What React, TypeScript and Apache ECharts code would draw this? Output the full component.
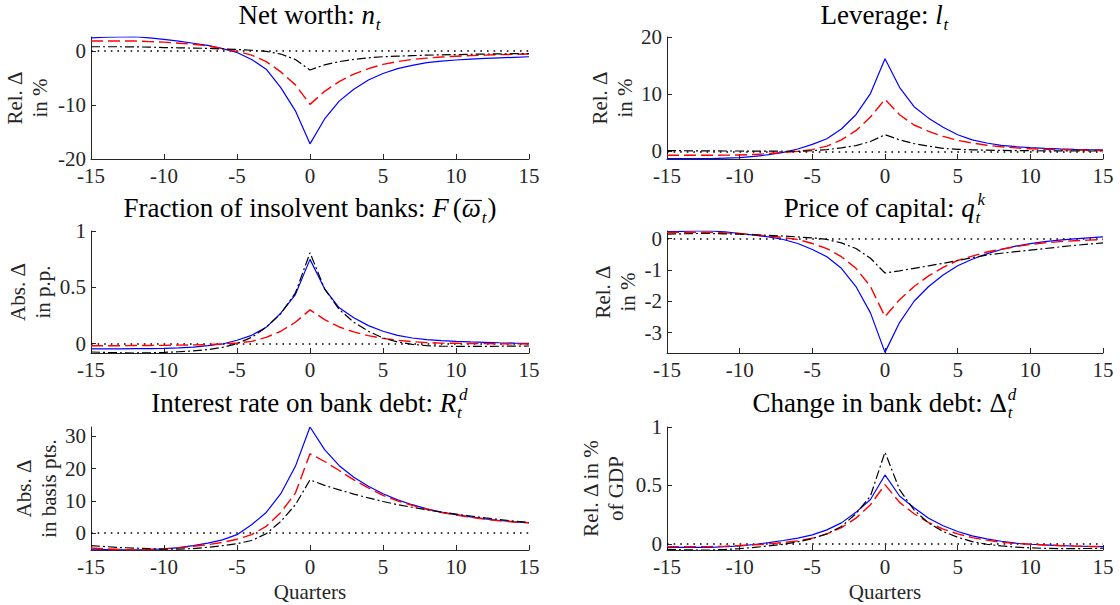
import React, { useEffect, useRef } from "react";
import * as echarts from "echarts";

// ---------- data ----------
const quarters = [-15, -14, -13, -12, -11, -10, -9, -8, -7, -6, -5, -4, -3, -2, -1, 0, 1, 2, 3, 4, 5, 6, 7, 8, 9, 10, 11, 12, 13, 14, 15];

const netWorthBlue = [2.4, 2.5, 2.55, 2.6, 2.4, 2.1, 1.8, 1.4, 1.0, 0.4, -0.3, -1.6, -3.4, -6.8, -11.1, -17.2, -12.6, -9.3, -7.1, -5.4, -4.2, -3.3, -2.7, -2.2, -1.9, -1.7, -1.55, -1.4, -1.3, -1.2, -1.1];
const netWorthRed = [1.8, 1.8, 1.8, 1.8, 1.7, 1.6, 1.4, 1.2, 0.9, 0.4, -0.1, -0.8, -2.0, -3.9, -6.3, -9.9, -7.5, -5.7, -4.3, -3.3, -2.5, -2.0, -1.6, -1.35, -1.15, -1.0, -0.9, -0.8, -0.72, -0.65, -0.6];
const netWorthBlack = [0.75, 0.75, 0.75, 0.72, 0.68, 0.6, 0.55, 0.5, 0.45, 0.35, 0.25, 0.1, -0.1, -0.6, -1.6, -3.55, -2.6, -2.0, -1.6, -1.3, -1.1, -1.0, -0.9, -0.8, -0.75, -0.7, -0.65, -0.6, -0.57, -0.53, -0.5];

const leverageBlue = [-1.3, -1.3, -1.3, -1.3, -1.2, -1.1, -0.9, -0.6, -0.2, 0.4, 1.2, 2.2, 3.9, 6.4, 10.1, 16.2, 11.2, 7.8, 5.8, 4.2, 2.9, 2.0, 1.45, 1.05, 0.8, 0.65, 0.52, 0.42, 0.34, 0.28, 0.25];
const leverageRed = [-0.7, -0.7, -0.7, -0.7, -0.68, -0.65, -0.55, -0.4, -0.2, 0.0, 0.3, 0.9, 2.0, 3.6, 6.0, 9.1, 6.4, 4.6, 3.5, 2.6, 1.9, 1.45, 1.05, 0.8, 0.6, 0.45, 0.36, 0.3, 0.23, 0.18, 0.15];
const leverageBlack = [0.1, 0.1, 0.08, 0.06, 0.05, 0.05, 0.03, 0.02, 0.01, 0.0, 0.1, 0.3, 0.6, 1.0, 1.7, 2.9, 2.0, 1.35, 0.9, 0.5, 0.35, 0.25, 0.2, 0.15, 0.12, 0.1, 0.08, 0.07, 0.06, 0.05, 0.05];

const insolventBlue = [-0.047, -0.047, -0.046, -0.045, -0.044, -0.042, -0.038, -0.03, -0.018, -0.003, 0.03, 0.074, 0.145, 0.27, 0.436, 0.748, 0.487, 0.318, 0.23, 0.16, 0.11, 0.074, 0.05, 0.036, 0.027, 0.02, 0.015, 0.012, 0.008, 0.005, 0.003];
const insolventRed = [-0.018, -0.018, -0.018, -0.017, -0.016, -0.015, -0.013, -0.011, -0.009, -0.003, 0.006, 0.02, 0.056, 0.11, 0.19, 0.3, 0.214, 0.148, 0.104, 0.071, 0.047, 0.03, 0.018, 0.009, 0.005, 0.003, 0.001, 0.0, -0.001, -0.002, -0.003];
const insolventBlack = [-0.074, -0.078, -0.081, -0.083, -0.081, -0.077, -0.072, -0.065, -0.053, -0.033, 0.0, 0.056, 0.145, 0.267, 0.45, 0.807, 0.487, 0.303, 0.19, 0.11, 0.05, 0.015, -0.006, -0.018, -0.022, -0.024, -0.025, -0.024, -0.023, -0.022, -0.021];

const priceBlue = [0.22, 0.23, 0.24, 0.24, 0.21, 0.16, 0.11, 0.05, -0.03, -0.16, -0.35, -0.58, -0.95, -1.53, -2.37, -3.63, -2.68, -2.0, -1.53, -1.16, -0.87, -0.66, -0.49, -0.35, -0.24, -0.16, -0.1, -0.05, -0.01, 0.02, 0.05];
const priceRed = [0.19, 0.2, 0.2, 0.2, 0.18, 0.16, 0.12, 0.08, 0.03, -0.03, -0.16, -0.32, -0.58, -0.95, -1.53, -2.49, -1.95, -1.53, -1.19, -0.92, -0.7, -0.56, -0.43, -0.34, -0.26, -0.19, -0.14, -0.1, -0.07, -0.05, -0.03];
const priceBlack = [0.14, 0.15, 0.16, 0.16, 0.15, 0.14, 0.12, 0.1, 0.08, 0.05, 0.02, -0.03, -0.14, -0.32, -0.63, -1.1, -1.03, -0.95, -0.87, -0.79, -0.7, -0.61, -0.53, -0.47, -0.42, -0.37, -0.32, -0.27, -0.22, -0.18, -0.14];

const rateBlue = [-5.0, -5.1, -5.2, -5.2, -5.1, -4.9, -4.5, -3.9, -3.1, -2.1, -0.5, 2.6, 6.4, 12.2, 20.7, 32.9, 25.9, 20.9, 17.3, 14.5, 12.2, 10.3, 8.8, 7.5, 6.5, 5.7, 5.0, 4.4, 3.9, 3.5, 3.2];
const rateRed = [-4.65, -4.9, -5.1, -5.2, -5.1, -4.9, -4.6, -4.1, -3.6, -2.9, -1.9, -0.5, 2.1, 6.4, 12.4, 24.6, 22.2, 19.4, 16.5, 14.0, 11.7, 10.0, 8.6, 7.4, 6.4, 5.6, 4.9, 4.3, 3.8, 3.4, 3.2];
const rateBlack = [-3.9, -4.2, -4.5, -4.65, -4.85, -5.0, -4.95, -4.8, -4.4, -3.9, -3.3, -2.3, -0.2, 3.6, 8.8, 16.5, 14.8, 13.4, 12.1, 10.9, 9.8, 8.8, 8.0, 7.2, 6.5, 5.9, 5.3, 4.7, 4.2, 3.7, 3.3];

const debtBlue = [-0.029, -0.029, -0.029, -0.029, -0.024, -0.017, -0.005, 0.011, 0.029, 0.049, 0.077, 0.12, 0.18, 0.27, 0.38, 0.59, 0.41, 0.31, 0.22, 0.155, 0.106, 0.069, 0.043, 0.023, 0.006, -0.003, -0.009, -0.014, -0.018, -0.021, -0.023];
const debtRed = [-0.023, -0.023, -0.023, -0.023, -0.019, -0.014, -0.008, 0.0, 0.012, 0.026, 0.049, 0.086, 0.14, 0.22, 0.335, 0.507, 0.355, 0.258, 0.183, 0.126, 0.086, 0.054, 0.032, 0.014, 0.004, -0.003, -0.009, -0.014, -0.018, -0.021, -0.023];
const debtBlack = [-0.046, -0.05, -0.052, -0.052, -0.047, -0.04, -0.03, -0.017, -0.003, 0.017, 0.046, 0.086, 0.149, 0.258, 0.41, 0.785, 0.464, 0.29, 0.178, 0.106, 0.057, 0.02, -0.003, -0.017, -0.027, -0.034, -0.038, -0.04, -0.04, -0.039, -0.037];

const xTicks = [-15, -10, -5, 0, 5, 10, 15];
const netWorthTicks = [-20, -10, 0];
const leverageTicks = [0, 10, 20];
const insolventTicks = [0, 0.5, 1];
const priceTicks = [-3, -2, -1, 0];
const rateTicks = [0, 10, 20, 30];
const debtTicks = [0, 0.5, 1];

const xAxisTitle = "Quarters";

// ---------- styling ----------
const SERIF = '"Liberation Serif", "Times New Roman", serif';
const AXIS_COLOR = "#262626";
const TITLE_SIZE = 27;
const SCRIPT_SIZE = 17;
const TICK_SIZE = 21;
const NAME_SIZE = 21;

type Seg = { t: string; it?: boolean; sub?: string; sup?: string; bar?: boolean; pad?: number };

type Panel = {
  title: Seg[];
  yName: string;
  nameGap: number;
  yMin: number;
  yMax: number;
  ticks: number[];
  blue: number[];
  red: number[];
  black: number[];
  grid: { left: number; top: number; width: number; height: number };
  showXName: boolean;
};

const panels: Panel[] = [
  {
    title: [{ t: "Net worth: " }, { t: "n", it: true, sub: "t" }],
    yName: "Rel. Δ\nin %", nameGap: 39, yMin: -20, yMax: 2.55, ticks: netWorthTicks,
    blue: netWorthBlue, red: netWorthRed, black: netWorthBlack,
    grid: { left: 91, top: 37, width: 438, height: 122 }, showXName: false,
  },
  {
    title: [{ t: "Leverage: " }, { t: "l", it: true, sub: "t" }],
    yName: "Rel. Δ\nin %", nameGap: 30, yMin: -1.35, yMax: 20, ticks: leverageTicks,
    blue: leverageBlue, red: leverageRed, black: leverageBlack,
    grid: { left: 667, top: 37, width: 436, height: 122 }, showXName: false,
  },
  {
    title: [
      { t: "Fraction of insolvent banks: " },
      { t: "F", it: true },
      { t: "(", pad: 4 },
      { t: "ω", it: true, sub: "t", bar: true },
      { t: ")" },
    ],
    yName: "Abs. Δ\nin p.p.", nameGap: 34, yMin: -0.083, yMax: 1, ticks: insolventTicks,
    blue: insolventBlue, red: insolventRed, black: insolventBlack,
    grid: { left: 91, top: 231, width: 438, height: 122 }, showXName: false,
  },
  {
    title: [{ t: "Price of capital: " }, { t: "q", it: true, sub: "t", sup: "k" }],
    yName: "Rel. Δ\nin %", nameGap: 27, yMin: -3.65, yMax: 0.24, ticks: priceTicks,
    blue: priceBlue, red: priceRed, black: priceBlack,
    grid: { left: 667, top: 231, width: 436, height: 122 }, showXName: false,
  },
  {
    title: [{ t: "Interest rate on bank debt: " }, { t: "R", it: true, sub: "t", sup: "d" }],
    yName: "Abs. Δ\nin basis pts.", nameGap: 28, yMin: -5.25, yMax: 32.9, ticks: rateTicks,
    blue: rateBlue, red: rateRed, black: rateBlack,
    grid: { left: 91, top: 427, width: 438, height: 123 }, showXName: true,
  },
  {
    title: [{ t: "Change in bank debt: " }, { t: "Δ", sub: "t", sup: "d" }],
    yName: "Rel. Δ in %\nof GDP", nameGap: 39, yMin: -0.052, yMax: 1, ticks: debtTicks,
    blue: debtBlue, red: debtRed, black: debtBlack,
    grid: { left: 667, top: 427, width: 436, height: 123 }, showXName: true,
  },
];

const titleY = [15, 15, 208, 208, 403, 403];

let measureCtx: CanvasRenderingContext2D | null = null;
function textW(s: string, size: number, italic?: boolean): number {
  if (!measureCtx) measureCtx = document.createElement("canvas").getContext("2d");
  if (!measureCtx) return s.length * size * 0.5;
  measureCtx.font = `${italic ? "italic " : ""}${size}px ${SERIF}`;
  return measureCtx.measureText(s).width;
}

function buildTitle(segs: Seg[], cx: number, cy: number): any[] {
  const items = segs.map((sg) => {
    const w = textW(sg.t, TITLE_SIZE, sg.it);
    const subW = sg.sub ? textW(sg.sub, SCRIPT_SIZE, true) : 0;
    const supW = sg.sup ? textW(sg.sup, SCRIPT_SIZE, true) : 0;
    const sw = Math.max(subW, supW + (sg.sup && sg.it ? 2 : 0));
    return { sg, w, sw, total: (sg.pad || 0) + w + (sw ? sw + 2 : 0) };
  });
  const total = items.reduce((a, b) => a + b.total, 0);
  let x = cx - total / 2;
  const els: any[] = [];
  const txt = (s: string, px: number, py: number, size: number, italic?: boolean, lh?: number) => ({
    type: "text",
    x: px,
    y: py,
    silent: true,
    style: {
      text: s,
      fontSize: size,
      fontFamily: SERIF,
      fontStyle: italic ? "italic" : "normal",
      fill: "#000",
      align: "left",
      verticalAlign: "middle",
      ...(lh ? { lineHeight: lh } : {}),
    },
  });
  for (const it of items) {
    x += it.sg.pad || 0;
    els.push(txt(it.sg.t, x, cy, TITLE_SIZE, it.sg.it, 28));
    if (it.sg.bar) {
      els.push({
        type: "line",
        silent: true,
        shape: { x1: x + 3, y1: cy - 7.5, x2: x + it.w + 1, y2: cy - 7.5 },
        style: { stroke: "#000", lineWidth: 1.2 },
      });
    }
    x += it.w + 0.8;
    if (it.sg.sub) els.push(txt(it.sg.sub, x, cy + 9, SCRIPT_SIZE, true, 15));
    if (it.sg.sup) els.push(txt(it.sg.sup, x + (it.sg.it ? 2 : 0), cy - 9, SCRIPT_SIZE, true, 15));
    if (it.sw) x += it.sw + 1.2;
    else x -= 0.8;
  }
  return els;
}

function buildOption(): any {
  const grids: any[] = [];
  const xAxes: any[] = [];
  const yAxes: any[] = [];
  const series: any[] = [];
  let graphics: any[] = [];

  panels.forEach((p, i) => {
    grids.push({ ...p.grid, containLabel: false, outerBoundsMode: "none" });
    xAxes.push({
      type: "value",
      gridIndex: i,
      min: -15,
      max: 15,
      interval: 5,
      name: p.showXName ? xAxisTitle : "",
      nameLocation: "middle",
      nameGap: 31,
      nameTextStyle: { fontFamily: SERIF, fontSize: NAME_SIZE, color: AXIS_COLOR },
      axisLine: { onZero: false, lineStyle: { color: AXIS_COLOR, width: 1 } },
      axisTick: { inside: true, length: 5, lineStyle: { color: AXIS_COLOR }, customValues: xTicks },
      axisLabel: {
        fontFamily: SERIF, fontSize: TICK_SIZE, lineHeight: 16, color: AXIS_COLOR, margin: 9, customValues: xTicks,
      },
      splitLine: { show: false },
    });
    yAxes.push({
      type: "value",
      gridIndex: i,
      min: p.yMin,
      max: p.yMax,
      name: p.yName,
      nameLocation: "middle",
      nameRotate: 90,
      nameGap: p.nameGap,
      nameTextStyle: { fontFamily: SERIF, fontSize: NAME_SIZE, lineHeight: 25, color: AXIS_COLOR },
      axisLine: { show: true, onZero: false, lineStyle: { color: AXIS_COLOR, width: 1 } },
      axisTick: { show: true, inside: true, length: 5, lineStyle: { color: AXIS_COLOR }, customValues: p.ticks },
      axisLabel: {
        fontFamily: SERIF, fontSize: TICK_SIZE, lineHeight: 16, color: AXIS_COLOR, margin: 5, customValues: p.ticks,
      },
      splitLine: { show: false },
    });
    const pairs = (arr: number[]) => quarters.map((q, k) => [q, arr[k]]);
    series.push({
      type: "line",
      xAxisIndex: i,
      yAxisIndex: i,
      data: pairs(p.blue),
      showSymbol: false,
      symbol: "none",
      lineStyle: { color: "#0000ff", width: 1.2, type: "solid" },
      markLine: {
        silent: true,
        symbol: ["none", "none"],
        label: { show: false },
        lineStyle: { color: "#000", width: 1.6, type: [1.6, 5] },
        data: [{ yAxis: 0 }],
        z: 1,
      },
      z: 3,
    });
    series.push({
      type: "line",
      xAxisIndex: i,
      yAxisIndex: i,
      data: pairs(p.red),
      showSymbol: false,
      symbol: "none",
      lineStyle: { color: "#ff0000", width: 1.4, type: [12, 5] },
      z: 4,
    });
    series.push({
      type: "line",
      xAxisIndex: i,
      yAxisIndex: i,
      data: pairs(p.black),
      showSymbol: false,
      symbol: "none",
      lineStyle: { color: "#000000", width: 1.2, type: [9, 3, 2, 3] },
      z: 5,
    });
    const cx = p.grid.left + p.grid.width / 2;
    graphics = graphics.concat(buildTitle(p.title, cx, titleY[i]));
  });

  return {
    animation: false,
    backgroundColor: "#ffffff",
    grid: grids,
    xAxis: xAxes,
    yAxis: yAxes,
    series,
    graphic: graphics,
  };
}

export default function App() {
  const ref = useRef<HTMLDivElement>(null);
  useEffect(() => {
    if (!ref.current) return;
    const chart = echarts.init(ref.current, null, { renderer: "svg" });
    chart.setOption(buildOption());
    return () => chart.dispose();
  }, []);
  return (
    <div
      ref={ref}
      style={{ position: "absolute", left: 0, top: 0, width: 1120, height: 605, background: "#fff" }}
    />
  );
}
